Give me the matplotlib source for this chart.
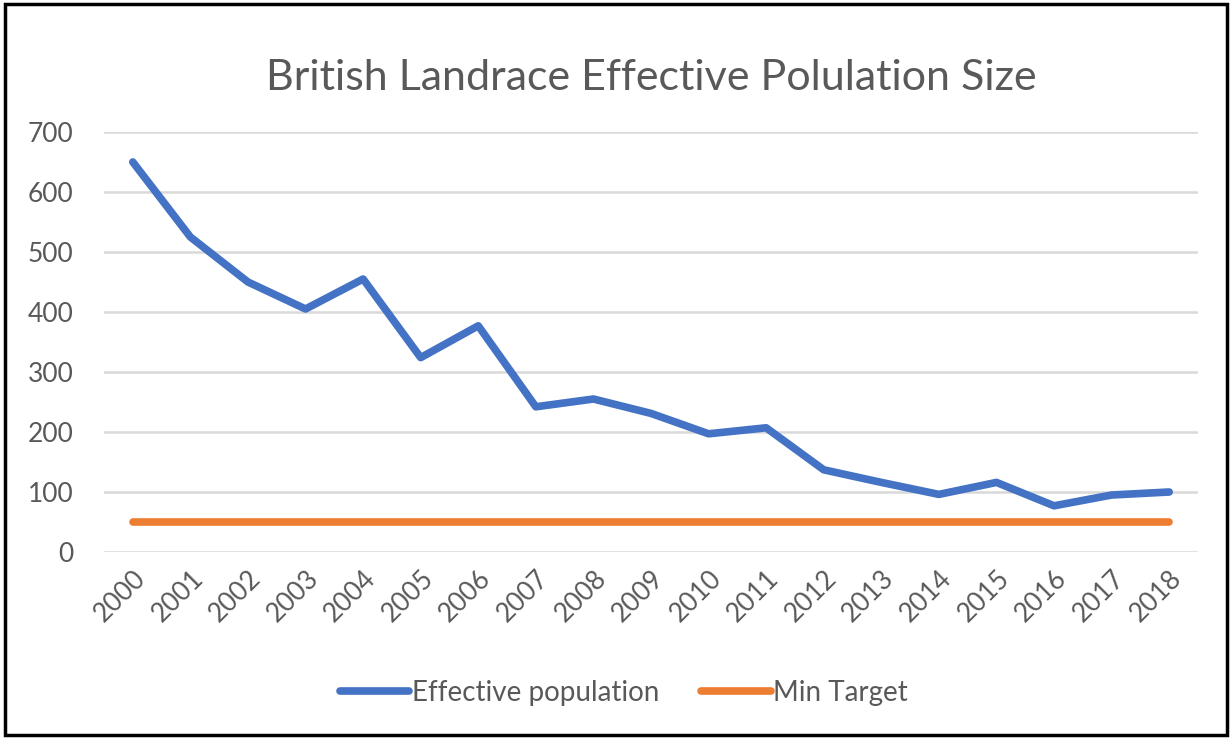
import matplotlib
matplotlib.use("Agg")
import matplotlib.pyplot as plt
from matplotlib.patches import Rectangle

years = [str(y) for y in range(2000, 2019)]
effective_population = [650, 525, 450, 405, 455, 324, 377, 242, 255, 231,
                        197, 207, 137, 116, 96, 116, 77, 95, 100]
min_target = [50] * len(years)

plt.rcParams['font.family'] = ['Lato', 'DejaVu Sans']
gray = '#595959'

fig = plt.figure(figsize=(12.32, 7.39), dpi=100)
ax = fig.add_axes([104/1232, 1-552/739, (1198-104)/1232, (552-132)/739])

x = list(range(len(years)))
ax.plot(x, effective_population, color='#4472C4', lw=5.5, solid_capstyle='round',
        solid_joinstyle='round', label='Effective population', zorder=3)
ax.plot(x, min_target, color='#ED7D31', lw=5.5, solid_capstyle='round',
        label='Min Target', zorder=3)

ax.set_xlim(-0.5, len(years) - 0.5)
ax.set_ylim(0, 700)
ax.set_yticks(range(0, 701, 100))
ax.set_xticks(x)
ax.set_xticklabels(years, rotation=45, ha='right', va='top', rotation_mode='anchor')
ax.tick_params(axis='both', length=0, labelsize=19, labelcolor=gray)
ax.tick_params(axis='y', pad=22)
ax.tick_params(axis='x', pad=10)
ax.grid(axis='y', color='#d9d9d9', lw=1.8)
ax.set_axisbelow(True)
for s in ax.spines.values():
    s.set_visible(False)

fig.text(651/1232, 1-78/739, 'British Landrace Effective Polulation Size', ha='center',
         va='center', fontsize=31, color=gray)

fig.legend(loc='center', bbox_to_anchor=(624/1232, 1-693/739), ncol=2, frameon=False,
           fontsize=20, labelcolor=gray, handlelength=2.5, handletextpad=0.1,
           columnspacing=1.5)

fig.patches.append(Rectangle((5/1232, 4/739), (1227-5)/1232, (735-4)/739,
                             transform=fig.transFigure, fill=False, ec='black', lw=2.5))

fig.savefig('out.png', dpi=100)
